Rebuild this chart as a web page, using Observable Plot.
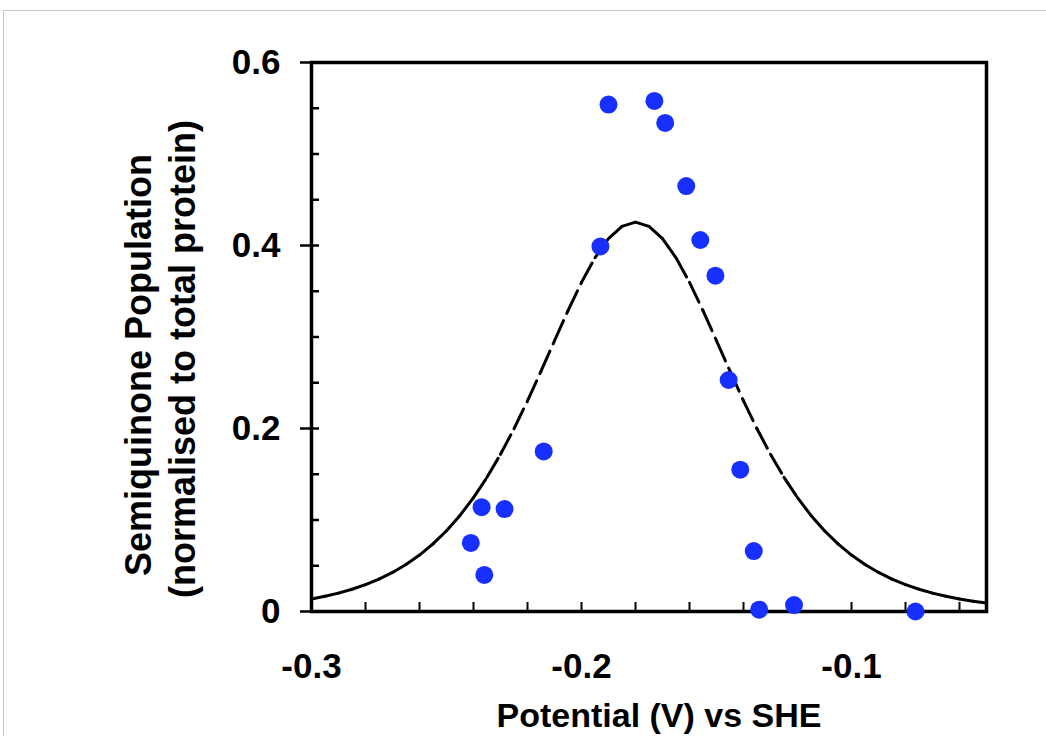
<!DOCTYPE html>
<html><head><meta charset="utf-8">
<script src="https://cdn.jsdelivr.net/npm/d3@7"></script>
<script src="https://cdn.jsdelivr.net/npm/@observablehq/plot@0.6"></script>
<style>
html,body{margin:0;padding:0;background:#fff;overflow:hidden;}
#wrap{position:relative;width:1046px;height:736px;}
#border{position:absolute;left:3px;top:10px;width:1100px;height:800px;border:1px solid #c6c6c6;}
#chart{position:absolute;left:0;top:0;}
</style></head><body>
<div id="wrap"><div id="border"></div><div id="chart"></div></div>
<script>
// Measured points
const potentialObs = [-0.241, -0.236, -0.237, -0.2285, -0.214, -0.193, -0.190, -0.173, -0.169, -0.1612, -0.156, -0.1504, -0.1455, -0.1412, -0.1362, -0.1342, -0.1213, -0.0763];
const semiquinoneObs = [0.075, 0.040, 0.114, 0.112, 0.175, 0.399, 0.554, 0.558, 0.534, 0.465, 0.406, 0.367, 0.253, 0.155, 0.066, 0.002, 0.007, 0.000];

// Fitted curve
const curvePotential = [-0.300, -0.295, -0.290, -0.285, -0.280, -0.275, -0.270, -0.265, -0.260, -0.255, -0.250, -0.245, -0.240, -0.235, -0.230, -0.225, -0.220, -0.215, -0.210, -0.205, -0.200, -0.195, -0.190, -0.185, -0.180, -0.175, -0.170, -0.165, -0.160, -0.155, -0.150, -0.145, -0.140, -0.135, -0.130, -0.125, -0.120, -0.115, -0.110, -0.105, -0.100, -0.095, -0.090, -0.085, -0.080, -0.075, -0.070, -0.065, -0.060, -0.055, -0.050];
const curveSemiquinone = [0.0137, 0.0166, 0.0201, 0.0243, 0.0293, 0.0354, 0.0427, 0.0513, 0.0617, 0.0739, 0.0882, 0.1050, 0.1244, 0.1466, 0.1718, 0.1997, 0.2302, 0.2626, 0.2959, 0.3288, 0.3597, 0.3866, 0.4076, 0.4209, 0.4255, 0.4209, 0.4076, 0.3866, 0.3597, 0.3288, 0.2959, 0.2626, 0.2302, 0.1997, 0.1718, 0.1466, 0.1244, 0.1050, 0.0882, 0.0739, 0.0617, 0.0513, 0.0427, 0.0354, 0.0293, 0.0243, 0.0201, 0.0166, 0.0137, 0.0113, 0.0093];

// Ticks
const xMajorTicks = [-0.3, -0.2, -0.1];
const xMinorTicks = [-0.3, -0.28, -0.26, -0.24, -0.22, -0.2, -0.18, -0.16, -0.14, -0.12, -0.1, -0.08, -0.06];
const yMajorTicks = [0, 0.2, 0.4, 0.6];
const yMinorTicks = [0.05, 0.1, 0.15, 0.25, 0.3, 0.35, 0.45, 0.5, 0.55];

const xTitle = "Potential (V) vs SHE";
const yTitleLines = ["Semiquinone Population", "(normalised to total protein)"];

const points = potentialObs.map((v, i) => ({x: v, y: semiquinoneObs[i]}));
const segments = curvePotential.slice(1).map((v, i) => ({
  x1: curvePotential[i], y1: curveSemiquinone[i], x2: v, y2: curveSemiquinone[i + 1]
}));
const fmt = d => d === 0 ? "0" : String(d);
const FONT = "'Liberation Sans', Arial, sans-serif";

const chart = Plot.plot({
  width: 1046, height: 736,
  marginLeft: 311, marginRight: 60, marginTop: 62, marginBottom: 125,
  style: {fontFamily: FONT, background: "transparent", overflow: "visible", color: "black"},
  x: {domain: [-0.3, -0.05]},
  y: {domain: [0, 0.6]},
  marks: [
    Plot.frame({stroke: "black", strokeWidth: 3.5}),
    Plot.axisY({ticks: yMinorTicks, tickSize: 8, dx: 8, fill: "none", strokeWidth: 2.5, label: null}),
    Plot.axisY({ticks: yMajorTicks, tickSize: 19, dx: 8, fill: "none", strokeWidth: 2.5, label: null}),
    Plot.axisY({ticks: yMajorTicks, tickSize: 0, tickPadding: 31, tickFormat: fmt, fontSize: 35, fontWeight: "bold", fill: "black", label: null}),
    Plot.axisX({ticks: xMinorTicks, tickSize: 9, dy: -9, fill: "none", strokeWidth: 2, label: null}),
    Plot.axisX({ticks: xMajorTicks, tickSize: 0, tickPadding: 42, tickFormat: fmt, fontSize: 35, fontWeight: "bold", fill: "black", label: null}),
    Plot.text([xTitle], {frameAnchor: "bottom", dy: 115, dx: 10, fontSize: 34, fontWeight: "bold", fill: "black", textAnchor: "middle"}),
    Plot.text([yTitleLines[0]], {frameAnchor: "left", rotate: -90, dx: -172, dy: 28, fontSize: 36, fontWeight: "bold", fill: "black", textAnchor: "middle"}),
    Plot.text([yTitleLines[1]], {frameAnchor: "left", rotate: -90, dx: -128, dy: 22, fontSize: 36, fontWeight: "bold", fill: "black", textAnchor: "middle"}),
    Plot.link(segments, {x1: "x1", y1: "y1", x2: "x2", y2: "y2", stroke: "black", strokeWidth: 3, strokeDasharray: "22,8", strokeLinecap: "round"}),
    Plot.dot(points, {x: "x", y: "y", r: 9, fill: "#1830ff", stroke: "none"})
  ]
});
document.getElementById("chart").appendChild(chart);
</script>
</body></html>
